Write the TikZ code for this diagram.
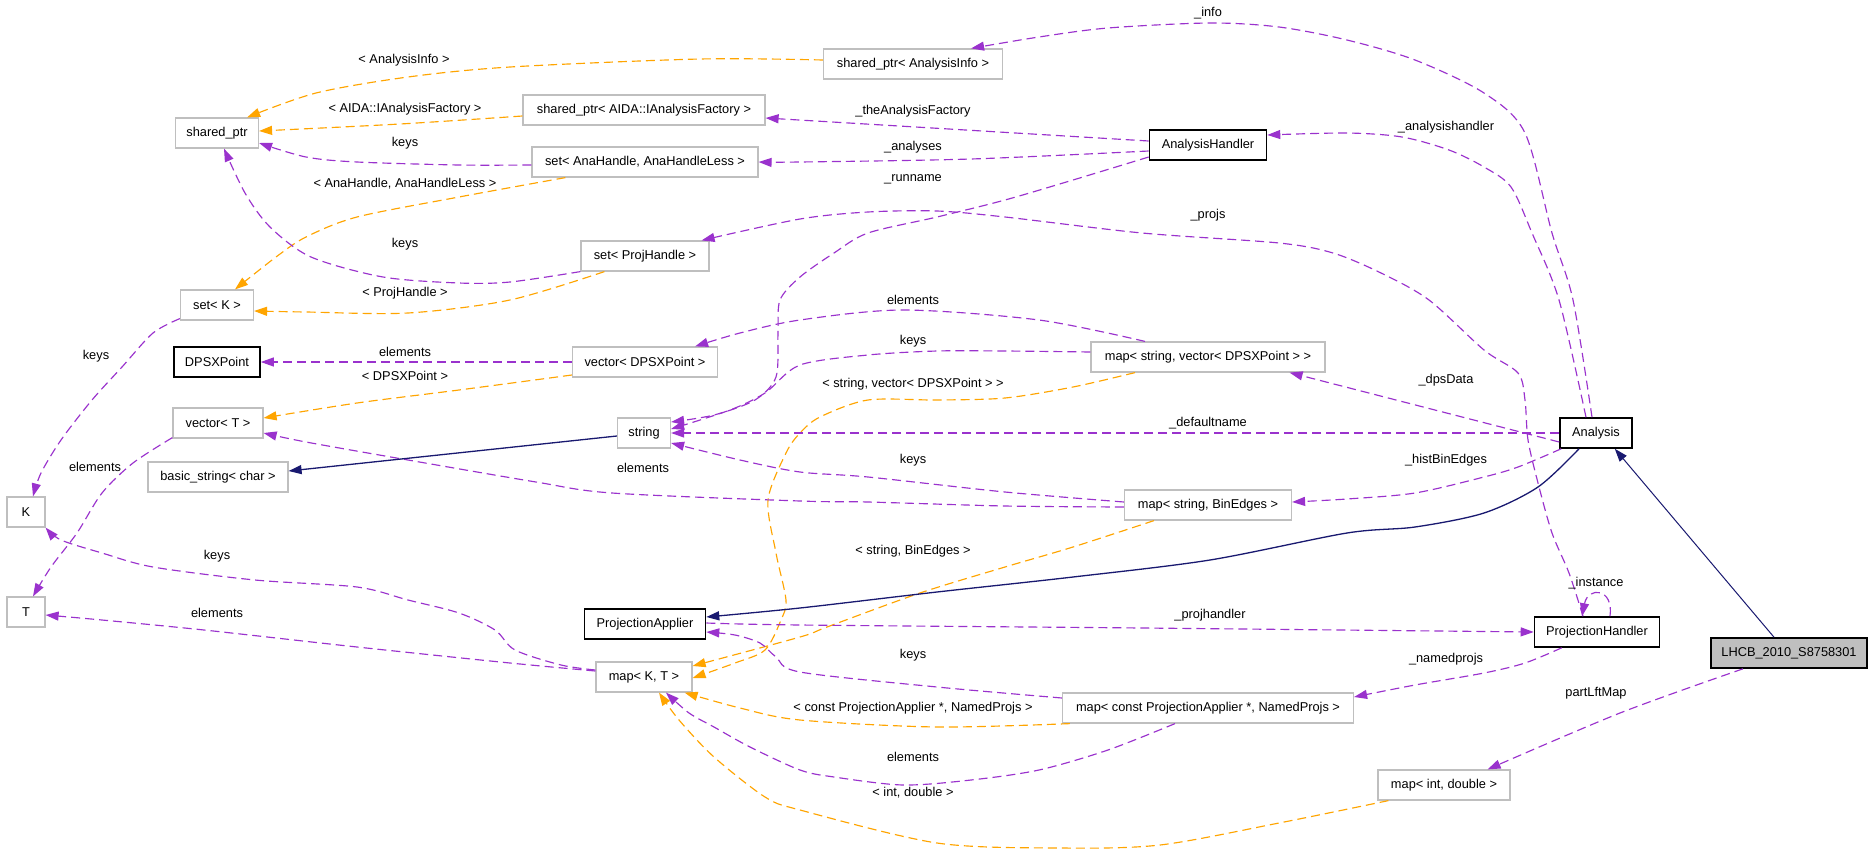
\documentclass[tikz,border=0pt]{standalone}
\usepackage{fontspec}
\setmainfont{Liberation Sans}
\usetikzlibrary{arrows.meta}
\definecolor{pur}{HTML}{9A32CD}
\definecolor{ora}{HTML}{FFA500}
\definecolor{mnb}{HTML}{191970}
\definecolor{gbd}{HTML}{BFBFBF}
\begin{document}
\begin{tikzpicture}[x=1pt,y=-1pt,
 every node/.style={font=\fontsize{12.8}{15}\selectfont},
 box/.style={draw=gbd, line width=1.2pt, minimum height=30pt, inner xsep=2pt, inner ysep=0pt, fill=white},
 bbox/.style={box, draw=black, line width=1.6pt},
 lbl/.style={inner sep=1pt},
 pe/.style={draw=pur, line width=1.15pt, dash pattern=on 9pt off 5pt, -{Triangle[length=13pt,width=9pt]}},
 oe/.style={pe, draw=ora},
 be/.style={draw=mnb, line width=1.3pt, -{Triangle[length=13pt,width=9pt]}},
]
\useasboundingbox[fill=white] (0,0) rectangle (1872,865);

% nodes
\node[box, minimum width=83pt] (sp) at (217,133) {shared\_ptr};
\node[box, minimum width=179pt] (spai) at (913,64) {shared\_ptr< AnalysisInfo >};
\node[box, minimum width=242pt] (spaida) at (644,110) {shared\_ptr< AIDA::IAnalysisFactory >};
\node[box, minimum width=226pt] (setana) at (645,162) {set< AnaHandle, AnaHandleLess >};
\node[bbox, minimum width=117pt] (ah) at (1208,145) {AnalysisHandler};
\node[box, minimum width=128pt] (setph) at (645,256) {set< ProjHandle >};
\node[box, minimum width=73pt] (setk) at (217,305) {set< K >};
\node[bbox, minimum width=86pt] (dpsx) at (217,362) {DPSXPoint};
\node[box, minimum width=145pt] (vdps) at (645,362) {vector< DPSXPoint >};
\node[box, minimum width=90pt] (vt) at (218,423) {vector< T >};
\node[box, minimum width=140pt] (bstr) at (218,477) {basic\_string< char >};
\node[box, minimum width=53pt] (str) at (644,433) {string};
\node[box, minimum width=38pt] (K) at (26,512) {K};
\node[box, minimum width=38pt] (T) at (26,612) {T};
\node[box, minimum width=234pt] (mapsv) at (1208,357) {map< string, vector< DPSXPoint > >};
\node[bbox, minimum width=72pt] (ana) at (1596,433) {Analysis};
\node[box, minimum width=167pt] (mapbe) at (1208,505) {map< string, BinEdges >};
\node[bbox, minimum width=121pt] (pa) at (645,624) {ProjectionApplier};
\node[box, minimum width=96pt] (mkt) at (644,677) {map< K, T >};
\node[bbox, minimum width=125pt] (ph) at (1597,632) {ProjectionHandler};
\node[bbox, fill=gbd, minimum width=156pt] (lhcb) at (1789,653) {LHCB\_2010\_S8758301};
\node[box, minimum width=291pt] (mapcpa) at (1208,708) {map< const ProjectionApplier *, NamedProjs >};
\node[box, minimum width=132pt] (mapid) at (1444,785) {map< int, double >};

% orange template edges
\draw[oe] plot[smooth] coordinates {([yshift=4pt]spai.west) (700,59) (510,67) (408,77) (316,93) ([xshift=-12pt]sp.north east)};
\draw[oe] plot[smooth] coordinates {([yshift=-6pt]spaida.west) (400,124) ([yshift=2pt]sp.east)};
\draw[oe] plot[smooth] coordinates {([xshift=34pt]setana.south west) (459,197) (357,217) (306,237) (276,257) ([xshift=18pt]setk.north)};
\draw[oe] plot[smooth] coordinates {([xshift=24pt]setph.south west) (510,300) (408,313) (306,312) ([yshift=-6pt]setk.east)};
\draw[oe] plot[smooth] coordinates {([yshift=-13pt]vdps.west) (459,390) (357,403) ([yshift=5pt]vt.east)};
\draw[oe] plot[smooth] coordinates {([xshift=-73pt]mapsv.south) (1073,387) (1005,398) (937,400) (868,400) (820,417) (800,433) (786,453) (768,500) (776,553) (786,600) (781,620) (765,650) (735,663) ([yshift=-1pt]mkt.east)};
\draw[oe] plot[smooth] coordinates {([xshift=-54pt]mapbe.south) (1073,547) (1005,567) (920,593) (827,627) (800,637) ([yshift=11pt]mkt.east)};
\draw[oe] plot[smooth] coordinates {([xshift=8pt]mapcpa.south west) (937,727) (800,720) (740,708) ([xshift=-8pt]mkt.south east)};
\draw[oe] plot[smooth] coordinates {([xshift=11pt]mapid.south west) (1279,823) (1160,845) (1060,848) (937,843) (800,810) (765,797) (714,757) (679,720) ([xshift=15pt]mkt.south)};

% purple usage edges
\draw[pe] plot[smooth] coordinates {([xshift=-4pt]ana.north) (1573,300) (1552,233) (1525,133) (1484,93) (1415,60) (1347,40) (1279,27) (1210,23) (1108,28) (1039,37) ([xshift=-32pt]spai.north east)};
\draw[pe] plot[smooth] coordinates {([xshift=-10pt]ana.north) (1559,300) (1532,233) (1511,187) (1484,167) (1449,150) (1402,137) (1347,133) ([yshift=10pt]ah.east)};
\draw[pe] ([yshift=4pt]ah.west) -- ([yshift=-8pt]spaida.east);
\draw[pe] plot[smooth] coordinates {([yshift=-6pt]ah.west) (971,159) (800,162) (setana.east)};
\draw[pe] plot[smooth] coordinates {([yshift=-12pt]ah.west) (1073,180) (1005,200) (937,217) (868,233) (834,253) (800,277) (780,300) (778,333) (776,377) (755,400) (714,415) ([yshift=11pt]str.east)};
\draw[pe] plot[smooth] coordinates {([xshift=-63pt]mapsv.north) (1039,320) (903,310) (800,320) (740,333) ([xshift=-23pt]vdps.north east)};
\draw[pe] plot[smooth] coordinates {([yshift=5pt]mapsv.west) (1005,351) (937,351) (868,355) (800,365) (765,393) (730,410) ([yshift=4pt]str.east)};
\draw[pe] ([yshift=-9pt]ana.west) -- ([xshift=-36pt]mapsv.south east);
\draw[pe] (ana.west) -- (str.east);
\draw[pe] plot[smooth] coordinates {([xshift=2pt]ana.south west) (1518,467) (1484,477) (1415,493) (1347,499) ([yshift=3pt]mapbe.east)};
\draw[pe] plot[smooth] coordinates {([yshift=3pt]mapbe.west) (1005,492) (868,477) (800,472) (740,460) ([yshift=-10pt]str.east)};
\draw[pe] plot[smooth] coordinates {([yshift=-2pt]mapbe.west) (1005,506) (868,502) (800,501) (612,493) (536,482) (408,460) (306,442) ([yshift=-10pt]vt.east)};
\draw[pe] plot[smooth] coordinates {([yshift=2pt]setk.south west) (153,333) (122,367) (92,400) (61,440) (41,473) ([xshift=7pt]K.north)};
\draw[pe] plot[smooth] coordinates {([yshift=1pt]vt.south west) (133,463) (102,493) (77,533) (51,567) ([xshift=7pt]T.north)};
\draw[pe] plot[smooth] coordinates {(setph.south west) (510,282) (459,283) (383,277) (311,257) (270,227) (245,193) ([xshift=7pt]sp.south)};
\draw[pe] plot[smooth] coordinates {([yshift=-3pt]setana.west) (459,165) (357,162) (306,157) ([yshift=-10pt]sp.east)};
\draw[pe] plot[smooth] coordinates {([xshift=-14pt]ph.north) (1569,573) (1552,533) (1538,483) (1528,440) (1525,400) (1518,373) (1484,350) (1429,300) (1381,273) (1333,253) (1279,243) (1142,233) (1005,217) (937,211) (868,212) (800,219) ([xshift=-8pt]setph.north east)};
\draw[pe] ([xshift=13pt]ph.north) .. controls (1614,588) and (1588,586) .. ([xshift=-15pt]ph.north);
\draw[pe] plot[smooth] coordinates {([yshift=1pt]pa.east) (800,625) (1142,628) (ph.west)};
\draw[pe] plot[smooth] coordinates {([xshift=28pt]ph.south west) (1525,663) (1484,673) (1415,685) ([yshift=11pt]mapcpa.east)};
\draw[pe] plot[smooth] coordinates {([yshift=10pt]mapcpa.west) (937,687) (800,672) (776,657) (760,643) (735,635) ([yshift=-8pt]pa.east)};
\draw[pe] plot[smooth] coordinates {([xshift=-33pt]mapcpa.south) (1108,750) (1039,770) (971,780) (903,785) (834,777) (800,770) (750,747) (714,727) (689,713) ([xshift=22pt]mkt.south)};
\draw[pe] plot[smooth] coordinates {([xshift=-46pt]lhcb.south) (1620,713) ([xshift=-23pt]mapid.north east)};
\draw[pe] plot[smooth] coordinates {([yshift=7pt]mkt.west) (561,665) (515,650) (495,630) (459,613) (408,600) (357,587) (255,580) (153,567) (102,553) (61,540) (K.south east)};
\draw[pe] plot[smooth] coordinates {([yshift=6pt]mkt.west) (510,663) (357,647) (204,630) (102,620) ([yshift=-3pt]T.east)};
\draw[pe] (vdps.west) -- (dpsx.east);

% blue inheritance edges
\draw[be] ([yshift=-3pt]str.west) -- ([yshift=6pt]bstr.east);
\draw[be] plot[smooth] coordinates {([xshift=-17pt]ana.south) (1538,487) (1484,513) (1415,527) (1347,533) (1210,560) (1073,577) (937,592) (800,608) ([yshift=7pt]pa.east)};
\draw[be, line width=1pt] ([xshift=-15pt]lhcb.north) -- ([xshift=-18pt]ana.south east);

% labels
\node[lbl] (l01) at (404,60) {< AnalysisInfo >};
\node[lbl] (l02) at (405,109) {< AIDA::IAnalysisFactory >};
\node[lbl] (l03) at (405,143) {keys};
\node[lbl] (l04) at (405,184) {< AnaHandle, AnaHandleLess >};
\node[lbl] (l05) at (405,244) {keys};
\node[lbl] (l06) at (405,293) {< ProjHandle >};
\node[lbl] (l07) at (1208,13) {\_info};
\node[lbl] (l08) at (913,111) {\_theAnalysisFactory};
\node[lbl] (l09) at (913,147) {\_analyses};
\node[lbl] (l10) at (913,179) {\_runname};
\node[lbl] (l11) at (1446,127) {\_analysishandler};
\node[lbl] (l12) at (1208,215) {\_projs};
\node[lbl] (l13) at (913,300) {elements};
\node[lbl] (l14) at (913,341) {keys};
\node[lbl] (l15) at (913,384) {< string, vector< DPSXPoint > >};
\node[lbl] (l16) at (1446,380) {\_dpsData};
\node[lbl] (l17) at (1208,423) {\_defaultname};
\node[lbl] (l18) at (913,460) {keys};
\node[lbl] (l19) at (1446,460) {\_histBinEdges};
\node[lbl] (l20) at (643,468) {elements};
\node[lbl] (l21) at (913,551) {< string, BinEdges >};
\node[lbl] (l22) at (1596,583) {\_instance};
\node[lbl] (l23) at (96,356) {keys};
\node[lbl] (l24) at (405,352) {elements};
\node[lbl] (l25) at (405,376) {< DPSXPoint >};
\node[lbl] (l26) at (95,467) {elements};
\node[lbl] (l27) at (217,556) {keys};
\node[lbl] (l28) at (217,613) {elements};
\node[lbl] (l29) at (1210,615) {\_projhandler};
\node[lbl] (l30) at (913,655) {keys};
\node[lbl] (l31) at (1446,659) {\_namedprojs};
\node[lbl] (l32) at (1596,693) {partLftMap};
\node[lbl] (l33) at (913,708) {< const ProjectionApplier *, NamedProjs >};
\node[lbl] (l34) at (913,757) {elements};
\node[lbl] (l35) at (913,793) {< int, double >};
\end{tikzpicture}
\end{document}
